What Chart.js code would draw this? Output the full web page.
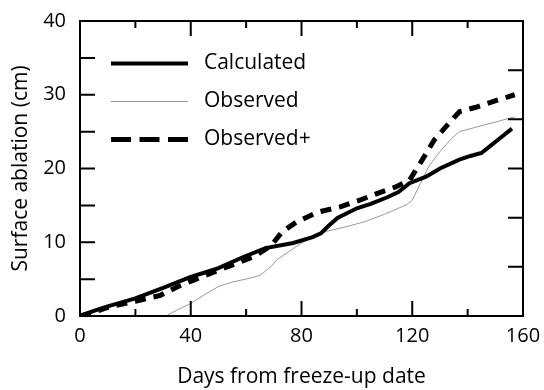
<!DOCTYPE html>
<html>
<head>
<meta charset="utf-8">
<script src="https://cdn.jsdelivr.net/npm/chart.js@4.4.1/dist/chart.umd.min.js"></script>
<style>
  html, body { margin: 0; padding: 0; background: #fff; }
</style>
</head>
<body>
<canvas id="myChart" width="544" height="390"></canvas>
<script>
// datos (dias, cm)
const calcDays = [0, 5, 10, 20, 30, 40, 46, 50, 59, 67, 77, 84, 87, 90, 93, 100, 105, 111, 115, 119, 125, 130, 137, 141, 145, 148, 152, 156];
const calcValues = [0, 0.7, 1.3, 2.4, 3.8, 5.3, 6.0, 6.5, 8.0, 9.2, 9.9, 10.7, 11.2, 12.3, 13.3, 14.6, 15.2, 16.1, 16.8, 18.0, 18.9, 20.0, 21.2, 21.7, 22.1, 23.0, 24.2, 25.4];

const obsDays = [31, 35, 40, 45, 50, 55, 61, 65, 69, 71, 78, 82, 88, 95, 103, 110, 118, 120, 123, 126, 130, 134, 137, 147, 157];
const obsValues = [0, 0.8, 1.7, 2.9, 4.0, 4.6, 5.1, 5.5, 6.7, 7.6, 9.4, 10.3, 11.4, 12.0, 12.8, 13.8, 15.1, 15.7, 18.0, 20.3, 22.3, 24.0, 25.0, 26.0, 27.0];

const obsPlusDays = [0, 4, 11, 20, 29, 36, 42, 50, 57, 63, 68, 70, 73, 78, 86, 94, 101, 108, 114, 119, 121, 124, 128, 132, 137, 143, 151, 157];
const obsPlusValues = [0, 0.4, 1.3, 2.0, 2.8, 4.1, 5.0, 6.2, 7.2, 8.1, 9.3, 10.0, 11.4, 12.7, 14.1, 14.8, 15.7, 16.7, 17.5, 18.4, 19.6, 21.4, 23.9, 25.6, 27.7, 28.3, 29.3, 30.0];

const seriesNames = ["Calculated", "Observed", "Observed+"];
const xTitle = "Days from freeze-up date";
const yTitle = "Surface ablation (cm)";

// marcas de los ejes
const xMajorTicks = [0, 40, 80, 120, 160];
const xMinorTicks = [20, 60, 100, 140];
const yLeftTicks = [0, 5, 10, 15, 20, 25, 30, 35, 40];
const yRightTicks = [0, 40 / 6, 80 / 6, 20, 160 / 6, 200 / 6, 40];

const fuente = "'Open Sans', 'DejaVu Sans', sans-serif";

function puntos(dias, valores) {
    return dias.map((d, i) => ({ x: d, y: valores[i] }));
}

// marco y marcas hacia adentro
const marcoPlugin = {
    id: "marco",
    afterDatasetsDraw(chart) {
        const ctx = chart.ctx;
        const a = chart.chartArea;
        const sx = chart.scales.x;
        const sy = chart.scales.y;
        ctx.save();
        ctx.strokeStyle = "#000";
        ctx.lineWidth = 2;
        ctx.strokeRect(a.left, a.top, a.right - a.left, a.bottom - a.top);
        ctx.beginPath();
        for (const v of xMajorTicks) {
            const px = sx.getPixelForValue(v);
            ctx.moveTo(px, a.bottom); ctx.lineTo(px, a.bottom - 15);
            ctx.moveTo(px, a.top); ctx.lineTo(px, a.top + 15);
        }
        for (const v of xMinorTicks) {
            const px = sx.getPixelForValue(v);
            ctx.moveTo(px, a.bottom); ctx.lineTo(px, a.bottom - 7);
            ctx.moveTo(px, a.top); ctx.lineTo(px, a.top + 7);
        }
        for (const v of yLeftTicks) {
            const py = sy.getPixelForValue(v);
            ctx.moveTo(a.left, py); ctx.lineTo(a.left + 15, py);
        }
        for (const v of yRightTicks) {
            const py = sy.getPixelForValue(v);
            ctx.moveTo(a.right, py); ctx.lineTo(a.right - 15, py);
        }
        ctx.stroke();
        ctx.restore();
    }
};

// mover la leyenda hacia adentro
const leyendaPlugin = {
    id: "leyendaPos",
    afterLayout(chart) {
        if (chart.legend) {
            chart.legend.left += 14;
            chart.legend.top += 36;
        }
    }
};

const legendDash = [[], [], [20, 8.5]];

const datasets = [
    {
        label: seriesNames[0],
        data: puntos(calcDays, calcValues),
        borderColor: "#000",
        borderWidth: 4,
        pointRadius: 0,
        tension: 0
    },
    {
        label: seriesNames[1],
        data: puntos(obsDays, obsValues),
        borderColor: "#999",
        borderWidth: 1,
        pointRadius: 0,
        tension: 0
    },
    {
        label: seriesNames[2],
        data: puntos(obsPlusDays, obsPlusValues),
        borderColor: "#000",
        borderWidth: 5,
        borderDash: [11, 8],
        pointRadius: 0,
        tension: 0
    }
];

const conf = {
    type: "line",
    data: { datasets },
    options: {
        responsive: false,
        animation: false,
        layout: { padding: { left: 0, top: 21, right: 21, bottom: 0 } },
        plugins: {
            tooltip: { enabled: false },
            legend: {
                position: "chartArea",
                align: "start",
                labels: {
                    usePointStyle: true,
                    pointStyle: "line",
                    pointStyleWidth: 77,
                    padding: 17,
                    color: "#000",
                    font: { family: fuente, size: 21 },
                    generateLabels(chart) {
                        return chart.data.datasets.map((ds, i) => ({
                            text: " " + ds.label,
                            strokeStyle: ds.borderColor,
                            fillStyle: ds.borderColor,
                            lineWidth: ds.borderWidth,
                            lineDash: legendDash[i],
                            pointStyle: "line",
                            fontColor: "#000",
                            hidden: false,
                            datasetIndex: i
                        }));
                    }
                }
            }
        },
        scales: {
            x: {
                type: "linear",
                min: 0,
                max: 160,
                afterFit(s) { s.height = 74; s.paddingLeft = 0; s.paddingRight = 0; },
                grid: { display: false, drawTicks: false },
                border: { display: true, color: "#000", width: 2 },
                ticks: { stepSize: 40, padding: 8, color: "#000", font: { family: fuente, size: 20 } },
                title: { display: true, text: xTitle, color: "#000", padding: { top: 0, bottom: 0 }, font: { family: fuente, size: 21 } }
            },
            y: {
                type: "linear",
                min: 0,
                max: 40,
                afterFit(s) { s.width = 80; s.paddingTop = 0; s.paddingBottom = 0; },
                grid: { display: false, drawTicks: false },
                border: { display: true, color: "#000", width: 2 },
                ticks: { stepSize: 10, padding: 14, color: "#000", font: { family: fuente, size: 20 } },
                title: { display: true, text: yTitle, color: "#000", padding: { top: 8, bottom: 0 }, font: { family: fuente, size: 21 } }
            }
        }
    },
    plugins: [marcoPlugin, leyendaPlugin]
};

const grafico = new Chart(document.querySelector("#myChart"), conf);
</script>
</body>
</html>
